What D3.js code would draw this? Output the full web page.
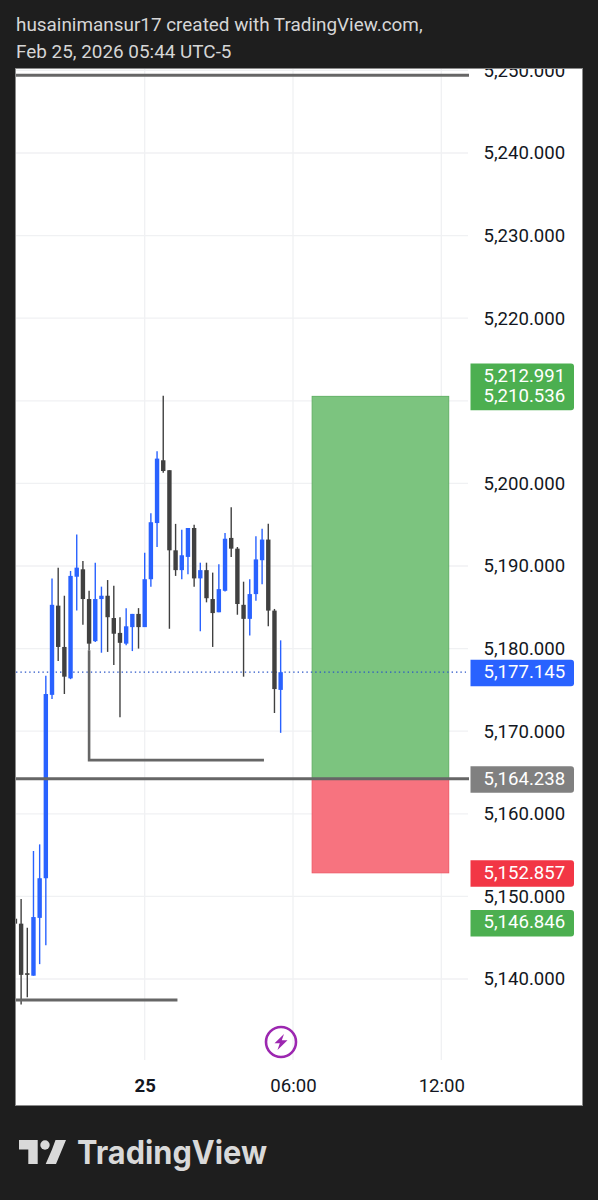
<!DOCTYPE html>
<html><head><meta charset="utf-8">
<script src="https://cdnjs.cloudflare.com/ajax/libs/d3/7.9.0/d3.min.js"></script>
<style>html,body{margin:0;padding:0;background:#1e1e1e}svg{display:block}text{font-family:Roboto,sans-serif}</style>
</head><body><svg id="c" width="598" height="1200"></svg>
<script>
// Candle offsets: number of 15-minute bars from Feb 25 00:00
const barIndex = d3.range(-21, 23);
const opens  = [5147.3,5146.7,5140.7,5140.4,5147.4,5152.2,5174.4,5185.2,5180.2,5176.4,5188.7,5189.6,5186.0,5180.9,5186.0,5186.4,5183.7,5181.9,5180.6,5182.6,5184.2,5182.6,5188.4,5195.2,5202.8,5201.6,5191.9,5189.5,5191.1,5194.6,5188.5,5189.5,5186.0,5184.4,5187.0,5193.4,5192.1,5185.3,5183.6,5186.6,5190.7,5193.2,5184.6,5175.0];
const highs  = [5147.7,5149.7,5146.2,5155.5,5156.3,5176.7,5188.5,5189.8,5186.4,5189.4,5193.8,5190.6,5187.0,5190.4,5187.5,5188.3,5187.6,5183.8,5184.9,5184.2,5184.9,5191.6,5196.4,5203.9,5210.6,5201.6,5195.1,5194.4,5194.6,5195.0,5190.4,5190.4,5189.2,5190.2,5194.0,5197.1,5192.3,5188.1,5188.4,5193.6,5194.5,5195.1,5184.8,5181.0];
const lows   = [5145.9,5136.9,5137.8,5140.4,5141.8,5144.1,5173.9,5178.5,5174.5,5176.3,5184.6,5182.9,5179.8,5180.8,5179.5,5179.6,5178.0,5171.7,5180.4,5179.7,5180.0,5182.6,5187.5,5192.3,5201.3,5182.4,5188.8,5188.4,5189.0,5187.5,5182.1,5185.6,5180.2,5184.4,5186.9,5191.1,5184.1,5176.6,5181.6,5185.8,5187.8,5182.7,5172.2,5169.8];
const closes = [5146.7,5140.5,5140.5,5147.5,5152.2,5174.5,5185.3,5180.2,5176.6,5188.8,5189.8,5186.0,5180.6,5186.0,5186.4,5183.8,5181.8,5180.7,5182.7,5184.2,5182.6,5188.4,5195.3,5203.0,5201.5,5191.9,5189.5,5191.3,5194.6,5188.5,5189.5,5186.1,5184.3,5187.2,5193.3,5192.1,5185.4,5183.6,5186.6,5190.8,5193.2,5184.6,5175.1,5177.145];

const priceTicks = d3.range(5140, 5251, 10);
const timeTickLabels = ["25", "06:00", "12:00"];
const timeTickHours = [0, 6, 12];
const lastPrice = 5177.145, entryPrice = 5164.238, stopPrice = 5152.857, targetPrice = 5210.536;
const targetQty = 5212.991, lowLabel = 5146.846;
const topLevel = 5249.4, midLevel = 5166.5, midLevelStart = 5179.8, lowLevel = 5137.46;
const midLevelBars = [-9, 19.3], lowLevelBars = [-30, 5.3];
const boxBars = [27.1, 49.2];
const headerLines = ["husainimansur17 created with TradingView.com,", "Feb 25, 2026 05:44 UTC-5"];

const UP = "#2962ff", DOWN = "#404040", DRAW = "#666666", GRID = "#f0f1f3";
const F = {l:16, t:69, r:582, b:1105, axisX:469, axisY:1063};
const t0 = Date.UTC(2026,1,25);
const bt = i => new Date(t0 + i*15*60000);
const x = d3.scaleUtc().domain([bt(0), bt(24)]).range([144.7, 293]);
const y = d3.scaleLinear().domain([5140,5240]).range([979,153]);
const fmt = d3.format(",.3f");
const svg = d3.select("#c");

svg.selectAll(".h").data(headerLines).join("text").attr("x",16).attr("y",(d,i)=>31+i*27)
  .attr("font-size",18.9).attr("fill","#d6d6d6").text(d=>d);

svg.append("rect").attr("x",F.l-0.5).attr("y",F.t-0.5).attr("width",F.r-F.l+1).attr("height",F.b-F.t+1)
  .attr("fill","#fff").attr("stroke","#8a8a8a");
const defs = svg.append("defs");
defs.append("clipPath").attr("id","frame").append("rect").attr("x",F.l).attr("y",F.t).attr("width",F.r-F.l).attr("height",F.b-F.t);
const g = svg.append("g").attr("clip-path","url(#frame)");

// grid
g.append("g").selectAll("line").data(priceTicks).join("line")
  .attr("x1",F.l).attr("x2",F.axisX-1).attr("y1",d=>y(d)).attr("y2",d=>y(d)).attr("stroke",GRID).attr("stroke-width",1.3);
g.append("g").selectAll("line").data(timeTickHours).join("line")
  .attr("x1",d=>x(bt(d*4))).attr("x2",d=>x(bt(d*4))).attr("y1",F.t).attr("y2",1060).attr("stroke",GRID).attr("stroke-width",1.3);

// position boxes
const bx0 = x(bt(boxBars[0])), bx1 = x(bt(boxBars[1]));
g.append("rect").attr("x",bx0).attr("width",bx1-bx0).attr("y",y(targetPrice)).attr("height",y(entryPrice)-y(targetPrice))
  .attr("fill","#7cc47f").attr("stroke","#62b066").attr("stroke-width",1);
g.append("rect").attr("x",bx0).attr("width",bx1-bx0).attr("y",y(entryPrice)).attr("height",y(stopPrice)-y(entryPrice))
  .attr("fill","#f7737f").attr("stroke","#ef5a67").attr("stroke-width",1);

// last price dotted
g.append("line").attr("x1",F.l).attr("x2",466).attr("y1",y(lastPrice)).attr("y2",y(lastPrice))
  .attr("stroke","#2a55c8").attr("stroke-width",1.3).attr("stroke-dasharray","1.4 3");

// candles
const candles = barIndex.map((b,i)=>({t:bt(b),o:opens[i],h:highs[i],l:lows[i],c:closes[i]}));
const cg = g.append("g").selectAll("g").data(candles).join("g");
cg.append("line").attr("x1",d=>x(d.t)).attr("x2",d=>x(d.t)).attr("y1",d=>y(d.h)).attr("y2",d=>y(d.l))
  .attr("stroke",d=>d.c>=d.o?UP:DOWN).attr("stroke-width",1.4);
cg.append("rect").attr("x",d=>x(d.t)-2.2).attr("width",4.4)
  .attr("y",d=>Math.min(y(d.o),y(d.c))).attr("height",d=>Math.max(1.2,Math.abs(y(d.o)-y(d.c))))
  .attr("fill",d=>d.c>=d.o?UP:DOWN);

// drawings
const hl = (x1,x2,p,w)=>g.append("line").attr("x1",x1).attr("x2",x2).attr("y1",y(p)).attr("y2",y(p)).attr("stroke",DRAW).attr("stroke-width",w);
hl(F.l,F.axisX,topLevel,3);
hl(F.l,F.axisX,entryPrice,3);
hl(x(bt(lowLevelBars[0])),x(bt(lowLevelBars[1])),lowLevel,3);
const line = d3.line().x(d=>x(bt(d[0]))).y(d=>y(d[1]));
g.append("path").attr("d",line([[midLevelBars[0],midLevelStart],[midLevelBars[0],midLevel],[midLevelBars[1],midLevel]]))
  .attr("fill","none").attr("stroke",DRAW).attr("stroke-width",2.6);

// axes labels
const yAxis = d3.axisRight(y).tickValues(priceTicks).tickFormat(fmt).tickSize(0).tickPadding(0);
const ya = g.append("g").attr("transform","translate(483.5,-0.8)").call(yAxis);
ya.select(".domain").remove();
ya.selectAll("text").attr("font-size",18.6).attr("font-family","Roboto").attr("fill","#131722").attr("dy","0.36em");

const xAxis = d3.axisBottom(x).tickValues(timeTickHours.map(h=>bt(h*4))).tickFormat((d,i)=>timeTickLabels[i]).tickSize(0).tickPadding(0);
const xa = g.append("g").attr("transform","translate(0,1085)").call(xAxis);
xa.select(".domain").remove();
xa.selectAll("text").attr("font-size",18.6).attr("font-family","Roboto").attr("fill","#131722").attr("dy","0.36em")
  .attr("font-weight",(d,i)=>i===0?700:400);

// price labels
const tag = (p0,p1,col,vals)=>{
  const top = y(p0)-12.5, bot = y(p1)+14, xl=470.5, xr=574, r=3;
  g.append("path").attr("d",`M${xl},${top}H${xr-r}Q${xr},${top} ${xr},${top+r}V${bot-r}Q${xr},${bot} ${xr-r},${bot}H${xl}Z`).attr("fill",col);
  vals.forEach(v=>g.append("text").attr("x",483.5).attr("y",y(v)-0.8).attr("dy","0.36em").attr("font-size",18.6).attr("fill","#fff").text(fmt(v)));
};
tag(targetQty,targetPrice,"#4caf50",[targetQty,targetPrice]);
tag(lastPrice,lastPrice,UP,[lastPrice]);
tag(entryPrice,entryPrice,"#808080",[entryPrice]);
tag(stopPrice,stopPrice,"#f23645",[stopPrice]);
tag(lowLabel,lowLabel,"#4caf50",[lowLabel]);

// bolt icon
const ic = svg.append("g").attr("transform","translate(281,1042)");
ic.append("circle").attr("r",15).attr("fill","none").attr("stroke","#9c27b0").attr("stroke-width",2.6);
ic.append("path").attr("d","M3,-8L-6.5,1.2H-1.2L-3.5,8L6.5,-1.8H0.8Z").attr("fill","#9c27b0");

// logo
const lg = svg.append("g").attr("fill","#d9d9d9");
lg.append("path").attr("d","M19,1140H37.7V1164H28.3V1149.5H19Z");
lg.append("circle").attr("cx",45).attr("cy",1145).attr("r",4.7);
lg.append("path").attr("d","M52,1149.5L55.5,1140H66L56,1164H45.7Z");
lg.append("text").attr("x",77).attr("y",1164).attr("font-size",32).attr("font-weight",700)
  .style("font-family","Inter").attr("textLength",190).attr("lengthAdjust","spacingAndGlyphs").text("TradingView");
</script></body></html>
